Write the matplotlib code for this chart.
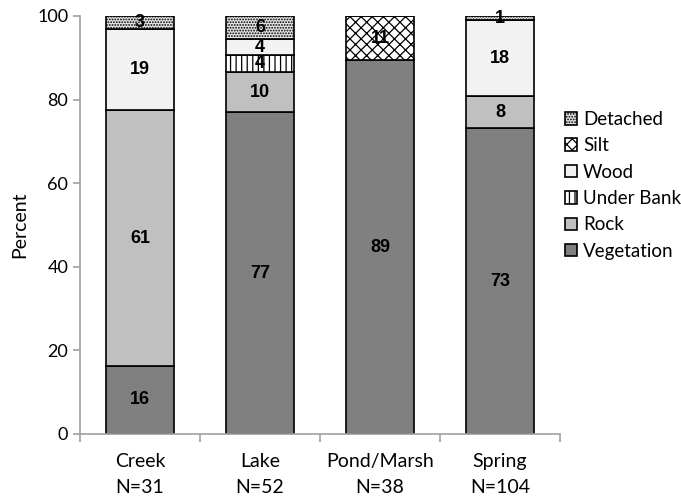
import numpy as np
import matplotlib
matplotlib.use("Agg")
import matplotlib.pyplot as plt

# habitat types and sample sizes
sites = ["Creek", "Lake", "Pond/Marsh", "Spring"]
n_obs = [31, 52, 38, 104]

# percent of each substrate class, bottom to top
vegetation = [16.3, 77.0, 89.4, 73.2]
rock = [61.1, 9.6, 0.0, 7.6]
under_bank = [0.0, 4.0, 0.0, 0.0]
wood = [19.4, 3.8, 0.0, 18.2]
silt = [0.0, 0.0, 10.6, 0.0]
detached = [3.2, 5.6, 0.0, 1.0]

series = [
    ("Vegetation", vegetation, "#808080", None),
    ("Rock", rock, "#c0c0c0", None),
    ("Under Bank", under_bank, "white", "|||"),
    ("Wood", wood, "#f2f2f2", None),
    ("Silt", silt, "white", "xxx"),
    ("Detached", detached, "#e6e6e6", "......"),
]

plt.rcParams["hatch.linewidth"] = 0.9
plt.rcParams["font.family"] = ["Lato", "DejaVu Sans"]

fig = plt.figure(figsize=(6.81, 5), dpi=100)
ax = fig.add_axes([80 / 681, 66 / 500, 480 / 681, 418 / 500])

x = np.arange(len(sites))
bottom = np.zeros(len(sites))
handles = []
for name, vals, color, hatch in series:
    vals = np.array(vals)
    bars = ax.bar(x, vals, width=0.57, bottom=bottom, color=color,
                  edgecolor="black", linewidth=1.2, hatch=hatch, label=name)
    handles.append(bars)
    for xi, v, b in zip(x, vals, bottom):
        if v > 0:
            ax.text(xi, b + v / 2, f"{v:.0f}", ha="center", va="center",
                    fontsize=13, fontweight="bold", family="Liberation Sans")
    bottom += vals

ax.set_xlim(-0.5, len(sites) - 0.5)
ax.set_ylim(0, 100)
ax.set_yticks(range(0, 101, 20))
ax.set_xticks(x)
ax.set_xticklabels([f"{s}\nN={n}" for s, n in zip(sites, n_obs)], fontsize=14,
                   linespacing=1.6)
ax.set_xticks(np.arange(-0.5, len(sites)), minor=True)
ax.tick_params(axis="x", which="major", length=0, pad=14)
ax.tick_params(axis="x", which="minor", length=6, color="#a0a0a0", width=1.2)
ax.tick_params(axis="y", length=5, color="#a0a0a0", width=1.2, labelsize=13)
ax.set_ylabel("Percent", fontsize=14)
ax.yaxis.set_label_coords(-0.108, 0.5)

for side in ["top", "right"]:
    ax.spines[side].set_visible(False)
for side in ["left", "bottom"]:
    ax.spines[side].set_color("#a0a0a0")
    ax.spines[side].set_linewidth(1.2)

ax.legend(handles[::-1], [h.get_label() for h in handles[::-1]],
          loc="center left", bbox_to_anchor=(0.995, 0.595), frameon=False,
          fontsize=13.5, handlelength=0.65, handleheight=0.65,
          handletextpad=0.3, labelspacing=0.5, borderaxespad=0)

fig.savefig("out.png", dpi=100)
